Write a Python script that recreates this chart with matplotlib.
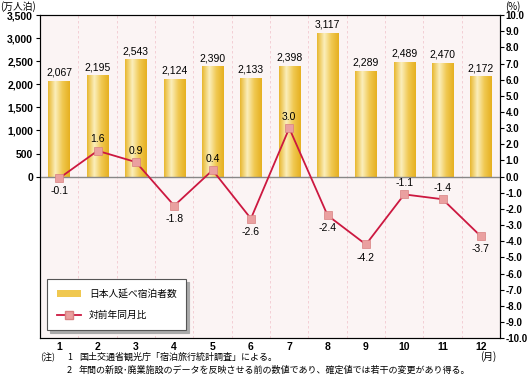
import numpy as np
import matplotlib
matplotlib.use('Agg')
import matplotlib.pyplot as plt
from matplotlib.patches import Rectangle
from matplotlib.lines import Line2D
from matplotlib.colors import LinearSegmentedColormap

plt.rcParams['font.family'] = ['Noto Sans CJK JP', 'DejaVu Sans']
NUM = 'Liberation Sans'

months = [1, 2, 3, 4, 5, 6, 7, 8, 9, 10, 11, 12]
guests = [2067, 2195, 2543, 2124, 2390, 2133, 2398, 3117, 2289, 2489, 2470, 2172]
yoy = [-0.1, 1.6, 0.9, -1.8, 0.4, -2.6, 3.0, -2.4, -4.2, -1.1, -1.4, -3.7]

fig = plt.figure(figsize=(5.27, 3.77), dpi=100)
ax = fig.add_axes([0.076, 0.103, 0.873, 0.857])
ax.set_facecolor('#fbf4f4')
ax.set_xlim(0.5, 12.5)
ax.set_ylim(-3500, 3500)

gold = LinearSegmentedColormap.from_list('gold', ['#e8b830', '#fbeebb', '#f0c850', '#e6b020'])
grad = np.linspace(0, 1, 64).reshape(1, -1)
w = 0.56
for m, g in zip(months, guests):
    im = ax.imshow(grad, extent=(m - w/2, m + w/2, 0, g), aspect='auto', cmap=gold, zorder=2)
    r = Rectangle((m - w/2, 0), w, g, facecolor='none', edgecolor='none')
    ax.add_patch(r)
    im.set_clip_path(r)
    ax.text(m, g + 70, f'{g:,}', ha='center', va='bottom', fontsize=7.5, family=NUM, zorder=5)

for xv in np.arange(1.5, 12.5, 1):
    ax.axvline(xv, color='#f2c8d0', ls=(0, (3, 3)), lw=0.6, zorder=1)
ax.axhline(0, color='#888888', lw=1.0, zorder=3)

ax.set_yticks(range(0, 3501, 500))
ax.set_yticklabels([f'{v:,}' for v in range(0, 3501, 500)], fontsize=7.5, fontweight='bold', family=NUM)
ax.set_xticks(months)
ax.set_xticklabels([str(m) for m in months], fontsize=7.5, fontweight='bold', family=NUM)
ax.tick_params(axis='x', length=0, pad=3)
ax.tick_params(axis='y', length=3, pad=2)
for s in ax.spines.values():
    s.set_color('#333333')
    s.set_linewidth(0.8)

ax2 = ax.twinx()
ax2.set_ylim(-10, 10)
ax2.plot(months, yoy, color='#cc1840', lw=1.3, marker='s', ms=6,
         mfc='#eaa0a0', mec='#d88080', mew=0.5, zorder=6)
for m, v in zip(months, yoy):
    up = (v >= 0 and m != 1) or m in (10, 11)
    ax2.text(m, v + (0.4 if up else -0.5), f'{v:.1f}', ha='center', va='bottom' if up else 'top',
             fontsize=7.5, family=NUM, zorder=7)
ax2.set_yticks(np.arange(-10, 10.1, 1))
ax2.set_yticklabels([f'{v:.1f}' for v in np.arange(-10, 10.1, 1)], fontsize=7, fontweight='bold', family=NUM)
ax2.tick_params(axis='y', length=3, pad=1)
ax.set_zorder(ax2.get_zorder() - 1)
ax2.patch.set_visible(False)

fig.text(0.0, 0.998, '(万人泊)', fontsize=7, va='top', ha='left')
fig.text(0.958, 0.998, '(%)', fontsize=7, va='top', ha='left')

# legend
leg_handles = [Rectangle((0, 0), 1, 1, facecolor='#f0c850', edgecolor='none'),
               Line2D([], [], color='#cc1840', marker='s', mfc='#eaa0a0', mec='#d88080', ms=6, lw=1.3)]
leg = ax.legend(leg_handles, ['日本人延べ宿泊者数', '対前年同月比'], loc='lower left',
                bbox_to_anchor=(0.015, 0.025), borderaxespad=0, fontsize=7, frameon=True, fancybox=False,
                shadow={'color': '#aaaaaa', 'alpha': 1}, edgecolor='#555555', facecolor='white',
                handlelength=2.5, borderpad=1.0, labelspacing=1.2)
leg.get_frame().set_linewidth(0.8)
leg.set_zorder(10)

# notes
fig.text(0.927, 0.053, '(月)', fontsize=7, ha='center', va='center')
fig.text(40/527, 0.053, '(注)', fontsize=6.5, ha='left', va='center')
fig.text(67/527, 0.053, '1', fontsize=6.5, ha='left', va='center')
fig.text(67/527, 0.018, '2', fontsize=6.5, ha='left', va='center')
fig.text(79/527, 0.053, '国土交通省観光庁「宿泊旅行統計調査」による。', fontsize=6.5, ha='left', va='center')
fig.text(79/527, 0.018, '年間の新設･廃業施設のデータを反映させる前の数値であり、確定値では若干の変更があり得る。',
         fontsize=6.5, ha='left', va='center')

fig.savefig('out.png', dpi=100)
